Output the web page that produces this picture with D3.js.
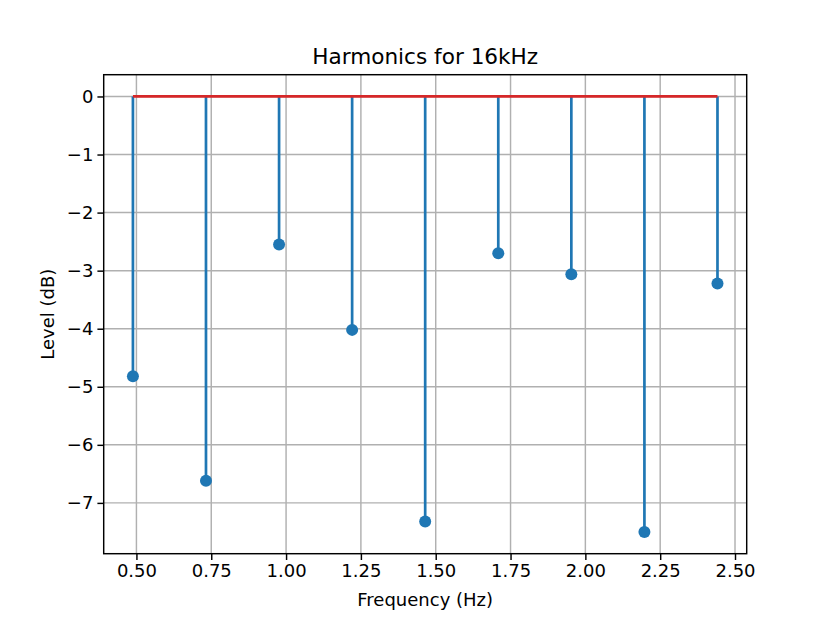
<!DOCTYPE html>
<html><head><meta charset="utf-8">
<script src="https://cdn.jsdelivr.net/npm/d3@7"></script>
<style>body{margin:0;background:#fff}svg{display:block}text{font-family:"DejaVu Sans",sans-serif;fill:#000}</style>
</head><body>
<script>
const frequencies = [0.4883, 0.7324, 0.9766, 1.2207, 1.4648, 1.7090, 1.9531, 2.1973, 2.4414];
const levels = [-4.82, -6.62, -2.55, -4.02, -7.32, -2.70, -3.06, -7.50, -3.22];
const xTicks = [0.5, 0.75, 1.0, 1.25, 1.5, 1.75, 2.0, 2.25, 2.5];
const yTicks = [0, -1, -2, -3, -4, -5, -6, -7];

const W = 830, H = 623;
const L = 103.7, R = 746.7, T = 74.7, B = 553.7;
const svg = d3.select("body").append("svg").attr("width", W).attr("height", H);

const fmin = d3.min(frequencies), fmax = d3.max(frequencies);
const fpad = (fmax - fmin) * 0.05;
const lmin = Math.min(0, d3.min(levels)), lmax = Math.max(0, d3.max(levels));
const lpad = (lmax - lmin) * 0.05;
const x = d3.scaleLinear().domain([fmin - fpad, fmax + fpad]).range([L, R]);
const y = d3.scaleLinear().domain([lmin - lpad, lmax + lpad]).range([B, T]);

const grid = svg.append("g");
grid.selectAll("line.gx").data(xTicks).join("line")
  .attr("x1", d => x(d)).attr("x2", d => x(d)).attr("y1", T).attr("y2", B)
  .attr("stroke", "#b0b0b0").attr("stroke-width", 1.45);
grid.selectAll("line.gy").data(yTicks).join("line")
  .attr("y1", d => y(d)).attr("y2", d => y(d)).attr("x1", L).attr("x2", R)
  .attr("stroke", "#b0b0b0").attr("stroke-width", 1.45);

// stems
svg.append("g").selectAll("line").data(frequencies).join("line")
  .attr("x1", d => x(d)).attr("x2", d => x(d))
  .attr("y1", y(0)).attr("y2", (d, i) => y(levels[i]))
  .attr("stroke", "#1f77b4").attr("stroke-width", 2.7);
// baseline
svg.append("line").attr("x1", x(fmin)).attr("x2", x(fmax)).attr("y1", y(0)).attr("y2", y(0))
  .attr("stroke", "#d62728").attr("stroke-width", 2.7);
// markers
svg.append("g").selectAll("circle").data(frequencies).join("circle")
  .attr("cx", d => x(d)).attr("cy", (d, i) => y(levels[i])).attr("r", 6)
  .attr("fill", "#1f77b4");

const xAxis = svg.append("g").attr("transform", `translate(0,${B})`)
  .call(d3.axisBottom(x).tickValues(xTicks).tickFormat(d3.format(".2f")).tickSize(6.3).tickPadding(4));
const yAxis = svg.append("g").attr("transform", `translate(${L},0)`)
  .call(d3.axisLeft(y).tickValues(yTicks).tickFormat(d => d < 0 ? "\u2212" + Math.abs(d) : d).tickSize(6.3).tickPadding(4));
[xAxis, yAxis].forEach(a => {
  a.select(".domain").remove();
  a.selectAll(".tick line").attr("stroke", "#000").attr("stroke-width", 1.45);
  a.selectAll(".tick text").attr("font-size", 18).attr("font-family", "DejaVu Sans").attr("fill", "#000");
});

svg.append("rect").attr("x", L).attr("y", T).attr("width", R - L).attr("height", B - T)
  .attr("fill", "none").attr("stroke", "#000").attr("stroke-width", 1.45);

svg.append("text").attr("x", (L + R) / 2).attr("y", T - 11).attr("text-anchor", "middle")
  .attr("font-size", 21.6).text("Harmonics for 16kHz");
svg.append("text").attr("x", (L + R) / 2).attr("y", 606).attr("text-anchor", "middle")
  .attr("font-size", 18).text("Frequency (Hz)");
svg.append("text").attr("transform", `translate(54,${(T + B) / 2}) rotate(-90)`).attr("text-anchor", "middle")
  .attr("font-size", 18).text("Level (dB)");
</script>
</body></html>
